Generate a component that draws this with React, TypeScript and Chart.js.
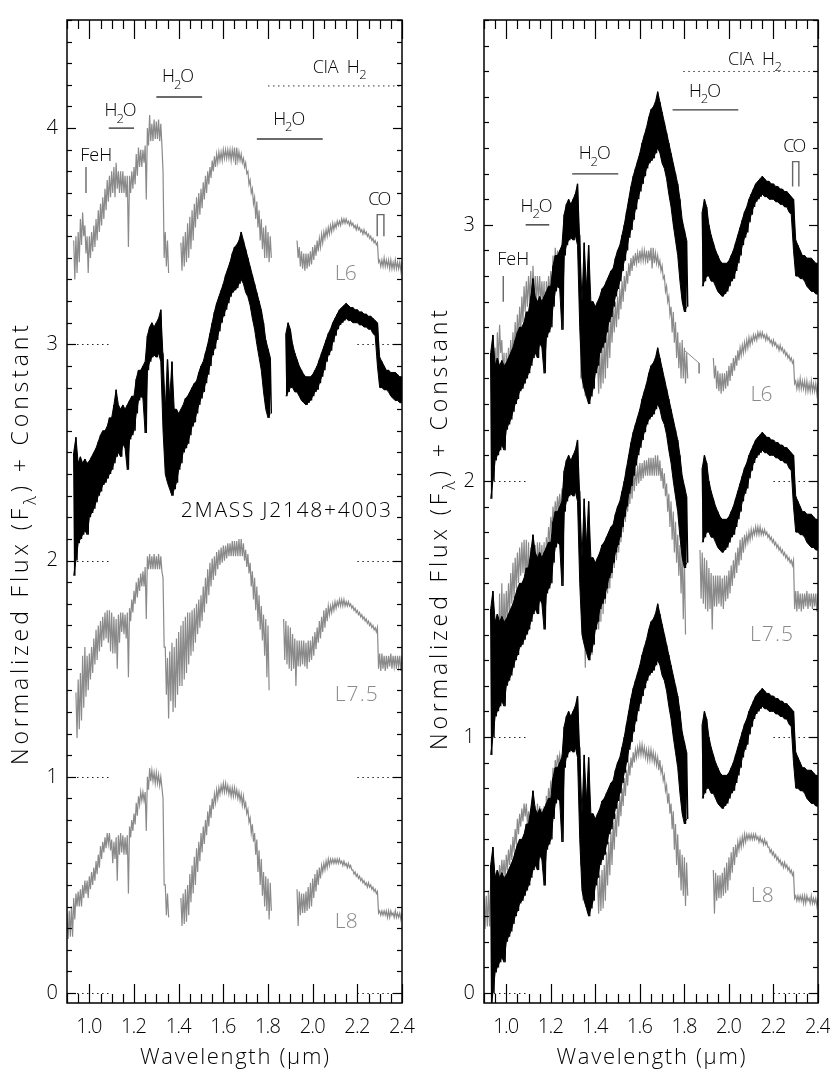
import { useEffect, useRef } from "react";
import { Chart, registerables } from "chart.js";
Chart.register(...registerables);

const N = null;
const FONT = '"Open Sans", "Noto Sans", sans-serif';
const GRAY = "#8a8a8a";

// wavelength grid: 0.90 .. 2.40 um, step 0.01 (151 samples)
const GRID_START = 0.9;
const GRID_STEP = 0.01;

// 2MASS J2148+4003 (normalized flux, upper / lower envelope of the noisy spectrum)
const targetHi = [
  N, N, N, 0.50, 0.57, 0.45, 0.48, 0.45, 0.47, 0.45,
  0.46, 0.48, 0.50, 0.52, 0.55, 0.58, 0.60, 0.60, 0.62, 0.66,
  0.66, 0.72, 0.79, 0.72, 0.70, 0.72, 0.70, 0.72, 0.74, 0.76,
  0.76, 0.84, 0.88, 0.88, 0.90, 0.92, 1.04, 1.08, 1.10, 1.08,
  1.10, 1.12, 1.16, 0.94, 0.70, 0.93, 0.75, 0.92, 0.70, 0.70,
  0.68, 0.70, 0.72, 0.75, 0.76, 0.78, 0.80, 0.82, 0.83, 0.87,
  0.90, 0.92, 0.96, 1.00, 1.05, 1.10, 1.15, 1.19, 1.22, 1.25,
  1.28, 1.32, 1.35, 1.38, 1.42, 1.45, 1.46, 1.48, 1.52, 1.48,
  1.44, 1.40, 1.36, 1.32, 1.28, 1.24, 1.20, 1.16, 1.10, 1.02,
  0.98, 0.94, N, N, N, N, N, N, 1.05, 1.10,
  1.07, 1.00, 0.96, 0.93, 0.90, 0.88, 0.86, 0.85, 0.85, 0.85,
  0.86, 0.88, 0.90, 0.93, 0.96, 0.99, 1.02, 1.05, 1.07, 1.10,
  1.12, 1.14, 1.16, 1.17, 1.18, 1.19, 1.18, 1.17, 1.17, 1.16,
  1.16, 1.15, 1.15, 1.14, 1.14, 1.13, 1.13, 1.12, 1.11, 1.10,
  0.94, 0.92, 0.90, 0.88, 0.88, 0.87, 0.87, 0.87, 0.86, 0.85,
  0.85,
];
const targetLo = [
  N, N, N, -0.07, 0.00, 0.08, 0.10, 0.12, 0.14, 0.12,
  0.20, 0.22, 0.24, 0.27, 0.30, 0.32, 0.35, 0.36, 0.38, 0.40,
  0.42, 0.45, 0.48, 0.50, 0.48, 0.54, 0.52, 0.42, 0.56, 0.58,
  0.60, 0.68, 0.74, 0.76, 0.75, 0.59, 0.88, 0.92, 0.94, 0.95,
  0.94, 0.96, 0.92, 0.60, 0.40, 0.36, 0.33, 0.30, 0.33, 0.36,
  0.42, 0.45, 0.50, 0.52, 0.54, 0.58, 0.62, 0.64, 0.68, 0.72,
  0.75, 0.78, 0.82, 0.86, 0.90, 0.95, 0.98, 1.02, 1.06, 1.10,
  1.13, 1.16, 1.19, 1.22, 1.24, 1.25, 1.26, 1.28, 1.30, 1.28,
  1.24, 1.22, 1.18, 1.12, 1.07, 1.00, 0.94, 0.88, 0.78, 0.70,
  0.66, 0.68, N, N, N, N, N, N, 0.76, 0.78,
  0.80, 0.80, 0.78, 0.78, 0.76, 0.74, 0.73, 0.72, 0.73, 0.74,
  0.76, 0.78, 0.79, 0.82, 0.85, 0.88, 0.92, 0.95, 0.97, 1.01,
  1.04, 1.07, 1.09, 1.10, 1.11, 1.12, 1.11, 1.11, 1.10, 1.10,
  1.10, 1.09, 1.09, 1.08, 1.08, 1.07, 1.07, 1.05, 1.04, 0.90,
  0.80, 0.80, 0.79, 0.79, 0.78, 0.76, 0.75, 0.74, 0.74, 0.73,
  0.73,
];

// L6 standard
const l6Hi = [
  N, N, N, 0.48, 0.50, 0.52, 0.58, 0.61, 0.55, 0.50,
  0.50, 0.52, 0.55, 0.58, 0.62, 0.65, 0.68, 0.72, 0.76, 0.78,
  0.80, 0.82, 0.84, 0.80, 0.80, 0.80, 0.78, 0.78, 0.78, 0.80,
  0.82, 0.88, 0.91, 0.90, 0.90, 0.92, 1.00, 1.06, 1.02, 1.04,
  1.03, 1.04, 1.02, 0.80, 0.52, 0.48, N, N, N, N,
  N, 0.47, 0.50, 0.52, 0.56, 0.59, 0.62, 0.65, 0.68, 0.70,
  0.72, 0.75, 0.78, 0.80, 0.82, 0.85, 0.87, 0.88, 0.89, 0.89,
  0.90, 0.90, 0.90, 0.90, 0.90, 0.91, 0.91, 0.89, 0.88, 0.86,
  0.84, 0.80, 0.76, 0.72, 0.68, 0.66, 0.62, 0.58, 0.54, 0.55,
  0.52, 0.50, N, N, N, N, N, N, N, N,
  N, N, N, 0.48, 0.45, 0.43, 0.42, 0.42, 0.42, 0.43,
  0.45, 0.46, 0.48, 0.49, 0.51, 0.52, 0.53, 0.54, 0.55, 0.56,
  0.56, 0.57, 0.57, 0.58, 0.58, 0.58, 0.57, 0.57, 0.56, 0.55,
  0.55, 0.54, 0.53, 0.53, 0.52, 0.51, 0.50, 0.49, 0.48, 0.47,
  0.39, 0.39, 0.40, 0.39, 0.39, 0.39, 0.38, 0.39, 0.38, 0.38,
  0.38,
];
const l6Lo = [
  N, N, N, 0.30, 0.33, 0.38, 0.46, 0.50, 0.42, 0.33,
  0.40, 0.43, 0.45, 0.48, 0.52, 0.55, 0.58, 0.62, 0.66, 0.68,
  0.70, 0.68, 0.72, 0.70, 0.70, 0.70, 0.68, 0.45, 0.70, 0.72,
  0.74, 0.78, 0.82, 0.82, 0.84, 0.67, 0.92, 0.94, 0.94, 0.95,
  0.95, 0.94, 0.92, 0.40, 0.36, 0.33, N, N, N, N,
  N, 0.34, 0.36, 0.38, 0.40, 0.44, 0.48, 0.54, 0.58, 0.60,
  0.63, 0.67, 0.70, 0.74, 0.77, 0.80, 0.82, 0.84, 0.85, 0.85,
  0.86, 0.86, 0.86, 0.85, 0.86, 0.83, 0.85, 0.85, 0.84, 0.82,
  0.79, 0.74, 0.70, 0.65, 0.58, 0.54, 0.48, 0.44, 0.40, 0.40,
  0.38, 0.40, N, N, N, N, N, N, N, N,
  N, N, N, 0.40, 0.36, 0.35, 0.34, 0.35, 0.36, 0.37,
  0.39, 0.41, 0.43, 0.45, 0.47, 0.49, 0.50, 0.51, 0.52, 0.53,
  0.54, 0.55, 0.55, 0.56, 0.56, 0.56, 0.55, 0.55, 0.54, 0.53,
  0.53, 0.52, 0.51, 0.51, 0.50, 0.49, 0.48, 0.47, 0.46, 0.38,
  0.36, 0.36, 0.36, 0.36, 0.35, 0.35, 0.35, 0.35, 0.35, 0.34,
  0.34,
];
// short stray segment of the L6 spectrum seen in the right panel (x, y)
const l6TailX = [1.8, 1.866, 1.866];
const l6TailY = [0.51, 0.46, 0.42];

// L7.5 standard
const l75Hi = [
  N, N, N, N, 0.39, 0.45, 0.48, 0.56, 0.60, 0.56,
  0.57, 0.60, 0.64, 0.68, 0.70, 0.72, 0.74, 0.76, 0.77, 0.77,
  0.76, 0.74, 0.73, 0.75, 0.76, 0.76, 0.75, 0.76, 0.78, 0.82,
  0.86, 0.90, 0.92, 0.94, 0.95, 0.97, 1.02, 1.03, 1.02, 1.03,
  1.02, 1.03, 1.02, 0.92, 0.60, 0.55, 0.58, 0.62, 0.60, 0.64,
  0.67, 0.70, 0.72, 0.74, 0.76, 0.76, 0.77, 0.78, 0.80, 0.82,
  0.84, 0.88, 0.92, 0.96, 0.99, 1.01, 1.02, 1.04, 1.05, 1.06,
  1.07, 1.07, 1.08, 1.08, 1.09, 1.09, 1.09, 1.10, 1.10, 1.08,
  1.05, 1.03, 0.99, 0.95, 0.92, 0.88, 0.84, 0.79, 0.75, 0.73,
  0.70, N, N, N, N, N, N, 0.73, 0.72, 0.70,
  0.69, 0.66, 0.64, 0.63, 0.63, 0.63, 0.63, 0.62, 0.63, 0.63,
  0.65, 0.67, 0.69, 0.72, 0.74, 0.77, 0.78, 0.79, 0.79, 0.80,
  0.81, 0.81, 0.82, 0.82, 0.82, 0.81, 0.81, 0.80, 0.79, 0.78,
  0.77, 0.76, 0.75, 0.74, 0.73, 0.72, 0.71, 0.70, 0.69, 0.69,
  0.57, 0.57, 0.56, 0.56, 0.56, 0.57, 0.56, 0.56, 0.56, 0.56,
  0.56,
];
const l75Lo = [
  N, N, N, N, 0.18, 0.22, 0.26, 0.32, 0.37, 0.40,
  0.45, 0.48, 0.52, 0.54, 0.58, 0.60, 0.63, 0.64, 0.62, 0.58,
  0.57, 0.57, 0.50, 0.62, 0.67, 0.66, 0.64, 0.46, 0.72, 0.76,
  0.80, 0.83, 0.86, 0.88, 0.88, 0.73, 0.96, 0.96, 0.96, 0.96,
  0.96, 0.96, 0.95, 0.60, 0.38, 0.27, 0.35, 0.30, 0.32, 0.38,
  0.42, 0.42, 0.45, 0.48, 0.52, 0.56, 0.58, 0.62, 0.66, 0.69,
  0.72, 0.76, 0.80, 0.84, 0.88, 0.91, 0.93, 0.96, 0.98, 0.99,
  1.00, 1.01, 1.02, 1.02, 1.02, 1.02, 1.02, 1.02, 1.02, 1.00,
  0.97, 0.94, 0.88, 0.82, 0.77, 0.72, 0.68, 0.63, 0.56, 0.46,
  0.40, N, N, N, N, N, N, 0.54, 0.52, 0.50,
  0.49, 0.50, 0.42, 0.51, 0.51, 0.52, 0.51, 0.50, 0.53, 0.54,
  0.56, 0.59, 0.62, 0.64, 0.67, 0.69, 0.72, 0.75, 0.76, 0.77,
  0.78, 0.79, 0.79, 0.79, 0.79, 0.79, 0.79, 0.78, 0.77, 0.76,
  0.75, 0.74, 0.73, 0.72, 0.71, 0.70, 0.69, 0.68, 0.67, 0.50,
  0.49, 0.50, 0.49, 0.50, 0.51, 0.50, 0.51, 0.50, 0.51, 0.49,
  0.49,
];

// L8 standard
const l8Hi = [
  0.37, 0.38, 0.40, 0.44, 0.46, 0.47, 0.48, 0.50, 0.52, 0.52,
  0.54, 0.56, 0.58, 0.61, 0.64, 0.68, 0.70, 0.72, 0.74, 0.74,
  0.71, 0.70, 0.72, 0.73, 0.74, 0.73, 0.72, 0.73, 0.77, 0.80,
  0.83, 0.88, 0.91, 0.93, 0.93, 0.93, 1.00, 1.04, 1.03, 1.02,
  1.02, 1.01, 1.00, 0.90, 0.50, 0.46, N, N, N, N,
  N, 0.44, 0.46, 0.48, 0.50, 0.55, 0.59, 0.63, 0.67, 0.70,
  0.74, 0.77, 0.80, 0.84, 0.87, 0.90, 0.92, 0.94, 0.95, 0.96,
  0.97, 0.97, 0.96, 0.95, 0.95, 0.95, 0.94, 0.93, 0.92, 0.91,
  0.88, 0.85, 0.81, 0.78, 0.74, 0.71, 0.66, 0.62, 0.56, 0.54,
  0.53, 0.51, N, N, N, N, N, N, N, N,
  N, N, N, 0.48, 0.47, 0.46, 0.46, 0.47, 0.49, 0.51,
  0.53, 0.55, 0.57, 0.58, 0.59, 0.60, 0.61, 0.62, 0.62, 0.62,
  0.62, 0.62, 0.62, 0.61, 0.61, 0.60, 0.60, 0.59, 0.57, 0.56,
  0.55, 0.54, 0.53, 0.52, 0.51, 0.51, 0.50, 0.49, 0.48, 0.47,
  0.38, 0.38, 0.38, 0.38, 0.38, 0.38, 0.37, 0.38, 0.37, 0.37,
  0.37,
];
const l8Lo = [
  0.25, 0.26, 0.26, 0.34, 0.40, 0.40, 0.40, 0.44, 0.46, 0.44,
  0.48, 0.50, 0.52, 0.55, 0.58, 0.62, 0.65, 0.67, 0.69, 0.66,
  0.60, 0.62, 0.52, 0.64, 0.65, 0.64, 0.64, 0.46, 0.72, 0.75,
  0.78, 0.82, 0.87, 0.89, 0.89, 0.75, 0.94, 0.98, 0.98, 0.97,
  0.97, 0.96, 0.95, 0.50, 0.36, 0.35, N, N, N, N,
  N, 0.31, 0.32, 0.33, 0.36, 0.42, 0.46, 0.50, 0.56, 0.61,
  0.65, 0.69, 0.73, 0.77, 0.81, 0.85, 0.88, 0.90, 0.92, 0.93,
  0.93, 0.93, 0.92, 0.91, 0.91, 0.91, 0.90, 0.89, 0.87, 0.86,
  0.83, 0.79, 0.74, 0.70, 0.64, 0.56, 0.50, 0.45, 0.40, 0.38,
  0.34, 0.38, N, N, N, N, N, N, N, N,
  N, N, N, 0.31, 0.36, 0.37, 0.37, 0.38, 0.39, 0.40,
  0.44, 0.47, 0.50, 0.53, 0.56, 0.57, 0.58, 0.59, 0.60, 0.60,
  0.60, 0.60, 0.60, 0.59, 0.59, 0.58, 0.58, 0.57, 0.55, 0.54,
  0.53, 0.52, 0.51, 0.50, 0.49, 0.49, 0.48, 0.47, 0.46, 0.37,
  0.36, 0.36, 0.36, 0.35, 0.35, 0.36, 0.35, 0.35, 0.35, 0.34,
  0.34,
];

// axes
const xRange = [0.9, 2.4];
const xTickValues = [1.0, 1.2, 1.4, 1.6, 1.8, 2.0, 2.2, 2.4];
const xTickLabels = ["1.0", "1.2", "1.4", "1.6", "1.8", "2.0", "2.2", "2.4"];
const leftYRange = [-0.046, 4.5];
const rightYRange = [-0.039, 3.8];
const leftYTicks = [0, 1, 2, 3, 4];
const rightYTicks = [0, 1, 2, 3];

// offsets (constants added)
const leftOffsets = { target: 2, l6: 3, l75: 1, l8: 0 };
const rightTargetOffsets = [2, 1, 0];
const rightOffsets = { l6: 2, l75: 1, l8: 0 };

// dotted zero-level markers
const leftDotLevels = [0, 1, 2, 3];
const rightDotLevels = [0, 1, 2];
const dotSpans = [[0.9, 1.1], [2.2, 2.4]];

// feature annotations: [x0, x1, level]
const leftH2O = [[1.087, 1.2, 4.0], [1.3, 1.505, 4.144], [1.75, 2.045, 3.95]];
const leftH2OLabel = [[1.14, 4.08], [1.397, 4.235], [1.895, 4.04]];
const leftCIA = [1.8, 2.4, 4.195];
const leftCIALabel = [2.121, 4.28];
const leftFeH = [0.985, 3.7, 3.82];
const leftFeHLabel = [1.031, 3.87];
const leftCO = [2.289, 2.319, 3.5, 3.6];
const leftCOLabel = [2.3, 3.67];

const rightH2O = [[1.087, 1.193, 3.0], [1.296, 1.503, 3.199], [1.747, 2.042, 3.449]];
const rightH2OLabel = [[1.136, 3.072], [1.397, 3.277], [1.892, 3.52]];
const rightCIA = [1.795, 2.4, 3.599];
const rightCIALabel = [2.117, 3.646];
const rightFeH = [0.9865, 2.7, 2.8];
const rightFeHLabel = [1.031, 2.863];
const rightCO = [2.286, 2.314, 3.15, 3.247];
const rightCOLabel = [2.296, 3.306];

// spectrum names and positions [x, y]
const leftNames = [
  { text: "L6", at: [2.148, 3.326], color: GRAY, width: 22 },
  { text: "2MASS J2148+4003", at: [1.88, 2.23], color: "#000", width: 210 },
  { text: "L7.5", at: [2.195, 1.378], color: GRAY, width: 43 },
  { text: "L8", at: [2.15, 0.33], color: GRAY, width: 23 },
];
const rightNames = [
  { text: "L6", at: [2.146, 2.336], color: GRAY, width: 22 },
  { text: "L7.5", at: [2.191, 1.4], color: GRAY, width: 43 },
  { text: "L8", at: [2.15, 0.38], color: GRAY, width: 23 },
];

type Part = { t: string; sub?: boolean };

function drawRich(
  ctx: CanvasRenderingContext2D,
  parts: Part[],
  cx: number,
  cy: number,
  o: { size: number; target?: number; color?: string; rot?: boolean; align?: string }
) {
  const subSize = Math.round(o.size * 0.72);
  const chars: { ch: string; sub: boolean; w: number }[] = [];
  for (const p of parts) {
    for (const ch of p.t) {
      ctx.font = `300 ${p.sub ? subSize : o.size}px ${FONT}`;
      chars.push({ ch, sub: !!p.sub, w: ctx.measureText(ch).width });
    }
  }
  const natural = chars.reduce((s, c) => s + c.w, 0);
  const ls = o.target && chars.length > 1 ? (o.target - natural) / (chars.length - 1) : 0;
  const total = natural + ls * (chars.length - 1);
  ctx.save();
  ctx.translate(cx, cy);
  if (o.rot) ctx.rotate(-Math.PI / 2);
  ctx.fillStyle = o.color || "#000";
  ctx.textBaseline = "middle";
  ctx.textAlign = "left";
  let x = o.align === "right" ? -total : o.align === "left" ? 0 : -total / 2;
  for (const c of chars) {
    ctx.font = `300 ${c.sub ? subSize : o.size}px ${FONT}`;
    ctx.fillText(c.ch, x, c.sub ? o.size * 0.45 : 0);
    x += c.w + ls;
  }
  ctx.restore();
}

const gridX = (i: number) => +(GRID_START + GRID_STEP * i).toFixed(3);

// zig-zag between upper and lower envelope (gives the noisy texture)
function zigzag(hi: (number | null)[], lo: (number | null)[], off: number) {
  const pts: { x: number; y: number | null }[] = [];
  for (let i = 0; i < hi.length; i++) {
    const x = gridX(i);
    const h = hi[i];
    const l = lo[i];
    if (h == null || l == null) {
      pts.push({ x, y: null });
      continue;
    }
    pts.push({ x, y: h + off });
    pts.push({ x: x + GRID_STEP / 2, y: l + off });
  }
  return pts;
}
function envelope(arr: (number | null)[], off: number) {
  return arr.map((v, i) => ({ x: gridX(i), y: v == null ? null : v + off }));
}

// black target: texture line + filled band between the envelopes
function filledSpectrum(hi: (number | null)[], lo: (number | null)[], off: number, color: string) {
  return [
    { data: zigzag(hi, lo, off), borderColor: color, borderWidth: 1.4, spanGaps: false, pointRadius: 0, fill: false },
    { data: envelope(hi, off), borderColor: color, borderWidth: 1, spanGaps: false, pointRadius: 0, fill: false },
    {
      data: envelope(lo, off),
      borderColor: color,
      borderWidth: 1,
      spanGaps: false,
      pointRadius: 0,
      fill: "-1",
      backgroundColor: color,
    },
  ];
}
// gray standards: noisy line only
function lineSpectrum(hi: (number | null)[], lo: (number | null)[], off: number, color: string) {
  return [
    { data: zigzag(hi, lo, off), borderColor: color, borderWidth: 1.2, spanGaps: false, pointRadius: 0, fill: false },
  ];
}

function line(ctx: CanvasRenderingContext2D, x0: number, y0: number, x1: number, y1: number) {
  ctx.beginPath();
  ctx.moveTo(x0, y0);
  ctx.lineTo(x1, y1);
  ctx.stroke();
}

type PanelCfg = {
  yRange: number[];
  yTicks: number[];
  dotLevels: number[];
  h2o: number[][];
  h2oLabel: number[][];
  cia: number[];
  ciaLabel: number[];
  feh: number[];
  fehLabel: number[];
  co: number[];
  coLabel: number[];
  names: { text: string; at: number[]; color: string; width: number }[];
  titleX: number;
  titleY: number;
};

function decorPlugin(cfg: PanelCfg) {
  return {
    id: "decor",
    beforeDatasetsDraw(chart: any) {
      const { ctx, scales } = chart;
      const xs = scales.x;
      const ys = scales.y;
      ctx.save();
      ctx.strokeStyle = "#222";
      ctx.lineWidth = 1;
      ctx.setLineDash([1.5, 3.5]);
      for (const lv of cfg.dotLevels) {
        for (const [a, b] of dotSpans) {
          const py = Math.round(ys.getPixelForValue(lv)) + 0.5;
          line(ctx, xs.getPixelForValue(a), py, xs.getPixelForValue(b), py);
        }
      }
      ctx.restore();
    },
    afterDatasetsDraw(chart: any) {
      const { ctx, chartArea, scales } = chart;
      const { left, right, top, bottom } = chartArea;
      const xs = scales.x;
      const ys = scales.y;
      const X = (v: number) => xs.getPixelForValue(v);
      const Y = (v: number) => ys.getPixelForValue(v);
      ctx.save();

      // CIA H2 dotted
      ctx.strokeStyle = "#333";
      ctx.lineWidth = 1;
      ctx.setLineDash([1.5, 3.5]);
      line(ctx, X(cfg.cia[0]), Y(cfg.cia[2]), X(cfg.cia[1]), Y(cfg.cia[2]));
      ctx.setLineDash([]);

      // H2O bands
      ctx.strokeStyle = "#3a3a3a";
      ctx.lineWidth = 1.4;
      for (const [a, b, lv] of cfg.h2o) line(ctx, X(a), Y(lv), X(b), Y(lv));
      // FeH tick
      ctx.strokeStyle = "#666";
      ctx.lineWidth = 1.4;
      line(ctx, X(cfg.feh[0]), Y(cfg.feh[1]), X(cfg.feh[0]), Y(cfg.feh[2]));
      // CO bandhead bracket
      ctx.beginPath();
      ctx.moveTo(X(cfg.co[0]), Y(cfg.co[2]));
      ctx.lineTo(X(cfg.co[0]), Y(cfg.co[3]));
      ctx.lineTo(X(cfg.co[1]), Y(cfg.co[3]));
      ctx.lineTo(X(cfg.co[1]), Y(cfg.co[2]));
      ctx.stroke();

      // labels
      const h2oParts: Part[] = [{ t: "H" }, { t: "2", sub: true }, { t: "O" }];
      for (const [lx, ly] of cfg.h2oLabel)
        drawRich(ctx, h2oParts, X(lx), Y(ly), { size: 18, target: 32 });
      drawRich(ctx, [{ t: "CIA  H" }, { t: "2", sub: true }], X(cfg.ciaLabel[0]), Y(cfg.ciaLabel[1]), {
        size: 18,
        target: 54,
      });
      drawRich(ctx, [{ t: "FeH" }], X(cfg.fehLabel[0]), Y(cfg.fehLabel[1]), { size: 18, target: 32 });
      drawRich(ctx, [{ t: "CO" }], X(cfg.coLabel[0]), Y(cfg.coLabel[1]), { size: 18, target: 23 });
      for (const n of cfg.names) {
        drawRich(ctx, [{ t: n.text }], X(n.at[0]), Y(n.at[1]), { size: 21, target: n.width, color: n.color });
      }

      // frame
      ctx.strokeStyle = "#000";
      ctx.lineWidth = 1.5;
      ctx.strokeRect(left, top, right - left, bottom - top);

      // x ticks (top & bottom)
      ctx.lineWidth = 1.2;
      for (let k = 0; k <= 30; k++) {
        const v = xRange[0] + 0.05 * k;
        const major = Math.abs(v / 0.2 - Math.round(v / 0.2)) < 1e-6;
        const px = Math.round(X(v)) + 0.5;
        const len = major ? 19 : 9;
        line(ctx, px, bottom, px, bottom - len);
        line(ctx, px, top, px, top + len);
      }
      // y ticks (left & right)
      const k0 = Math.ceil(cfg.yRange[0] * 10);
      const k1 = Math.floor(cfg.yRange[1] * 10);
      for (let k = k0; k <= k1; k++) {
        const py = Math.round(Y(k / 10)) + 0.5;
        const len = k % 10 === 0 ? 9 : 5;
        line(ctx, left, py, left + len, py);
        line(ctx, right, py, right - len, py);
      }

      // tick labels
      xTickValues.forEach((v, i) => {
        drawRich(ctx, [{ t: xTickLabels[i] }], X(v), bottom + 24, { size: 20, target: 26 });
      });
      for (const v of cfg.yTicks) {
        drawRich(ctx, [{ t: String(v) }], left - 9, Y(v), { size: 20, align: "right" });
      }

      // axis titles
      drawRich(ctx, [{ t: "Wavelength (μm)" }], (left + right) / 2, bottom + 55, { size: 22, target: 189 });
      drawRich(
        ctx,
        [{ t: "Normalized Flux (F" }, { t: "λ", sub: true }, { t: ") + Constant" }],
        cfg.titleX,
        cfg.titleY,
        { size: 23, target: 440, rot: true }
      );
      ctx.restore();
    },
  };
}

function makeChart(
  canvas: HTMLCanvasElement,
  datasets: any[],
  cfg: PanelCfg,
  padding: { left: number; right: number; top: number; bottom: number }
) {
  return new Chart(canvas, {
    type: "line",
    data: { datasets },
    options: {
      animation: false,
      responsive: false,
      events: [],
      layout: { padding },
      plugins: { legend: { display: false }, tooltip: { enabled: false } },
      elements: { point: { radius: 0 }, line: { borderWidth: 1, tension: 0 } },
      scales: {
        x: { type: "linear", min: xRange[0], max: xRange[1], display: false },
        y: { type: "linear", min: cfg.yRange[0], max: cfg.yRange[1], display: false },
      },
    },
    plugins: [decorPlugin(cfg)],
  });
}

export default function App() {
  const leftRef = useRef<HTMLCanvasElement>(null);
  const rightRef = useRef<HTMLCanvasElement>(null);

  useEffect(() => {
    const leftCfg: PanelCfg = {
      yRange: leftYRange,
      yTicks: leftYTicks,
      dotLevels: leftDotLevels,
      h2o: leftH2O,
      h2oLabel: leftH2OLabel,
      cia: leftCIA,
      ciaLabel: leftCIALabel,
      feh: leftFeH,
      fehLabel: leftFeHLabel,
      co: leftCO,
      coLabel: leftCOLabel,
      names: leftNames,
      titleX: 21,
      titleY: 545,
    };
    const rightCfg: PanelCfg = {
      yRange: rightYRange,
      yTicks: rightYTicks,
      dotLevels: rightDotLevels,
      h2o: rightH2O,
      h2oLabel: rightH2OLabel,
      cia: rightCIA,
      ciaLabel: rightCIALabel,
      feh: rightFeH,
      fehLabel: rightFeHLabel,
      co: rightCO,
      coLabel: rightCOLabel,
      names: rightNames,
      titleX: 25,
      titleY: 530,
    };
    // earlier datasets are drawn on top: black target first
    const leftSets = [
      ...filledSpectrum(targetHi, targetLo, leftOffsets.target, "#000"),
      ...lineSpectrum(l6Hi, l6Lo, leftOffsets.l6, GRAY),
      ...lineSpectrum(l75Hi, l75Lo, leftOffsets.l75, GRAY),
      ...lineSpectrum(l8Hi, l8Lo, leftOffsets.l8, GRAY),
    ];
    const tail = l6TailX.map((x, i) => ({ x, y: l6TailY[i] + rightOffsets.l6 }));
    const rightSets = [
      ...rightTargetOffsets.flatMap((o) => filledSpectrum(targetHi, targetLo, o, "#000")),
      ...lineSpectrum(l6Hi, l6Lo, rightOffsets.l6, GRAY),
      { data: tail, borderColor: GRAY, borderWidth: 1, pointRadius: 0, fill: false },
      ...lineSpectrum(l75Hi, l75Lo, rightOffsets.l75, GRAY),
      ...lineSpectrum(l8Hi, l8Lo, rightOffsets.l8, GRAY),
    ];
    const c1 = makeChart(leftRef.current!, leftSets, leftCfg, { left: 67, right: 13, top: 20, bottom: 87 });
    const c2 = makeChart(rightRef.current!, rightSets, rightCfg, { left: 69, right: 12, top: 20, bottom: 87 });
    return () => {
      c1.destroy();
      c2.destroy();
    };
  }, []);

  return (
    <div style={{ position: "absolute", left: 0, top: 0, width: 830, height: 1090, background: "#fff" }}>
      <canvas
        ref={leftRef}
        width={415}
        height={1090}
        style={{ position: "absolute", left: 0, top: 0, width: 415, height: 1090 }}
      />
      <canvas
        ref={rightRef}
        width={415}
        height={1090}
        style={{ position: "absolute", left: 415, top: 0, width: 415, height: 1090 }}
      />
    </div>
  );
}
